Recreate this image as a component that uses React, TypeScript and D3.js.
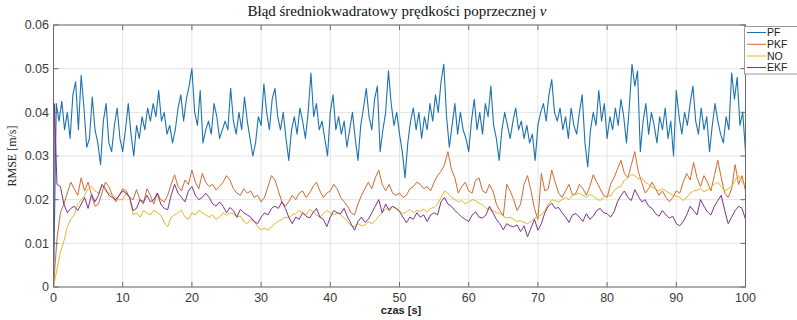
import React from "react";
import * as d3 from "d3";

// ---- data ----
const xTicks = [0, 10, 20, 30, 40, 50, 60, 70, 80, 90, 100];
const yTicks = [0, 0.01, 0.02, 0.03, 0.04, 0.05, 0.06];
const yTickLabels = ["0", "0.01", "0.02", "0.03", "0.04", "0.05", "0.06"];
const seriesNames = ["PF", "PKF", "NO", "EKF"];

// PF sampled every 0.4 s from t = 0
const pfStep = 0.4;
const pfValues = [
  0.000, 0.042, 0.038, 0.0425, 0.036, 0.040, 0.034, 0.044, 0.047, 0.036,
  0.0485, 0.041, 0.032, 0.034, 0.0435, 0.036, 0.033, 0.028, 0.038, 0.042,
  0.033, 0.031, 0.037, 0.041, 0.034, 0.031, 0.036, 0.042, 0.035, 0.030,
  0.037, 0.034, 0.039, 0.036, 0.041, 0.038, 0.042, 0.039, 0.045, 0.038,
  0.040, 0.035, 0.037, 0.033, 0.036, 0.041, 0.044, 0.038, 0.043, 0.046,
  0.050, 0.040, 0.037, 0.045, 0.033, 0.036, 0.038, 0.035, 0.042, 0.039,
  0.034, 0.036, 0.038, 0.036, 0.0455, 0.038, 0.035, 0.040, 0.036, 0.0435,
  0.038, 0.034, 0.030, 0.033, 0.039, 0.037, 0.0465, 0.040, 0.036, 0.043,
  0.0455, 0.039, 0.036, 0.040, 0.034, 0.029, 0.036, 0.039, 0.035, 0.041,
  0.038, 0.034, 0.040, 0.049, 0.039, 0.042, 0.036, 0.038, 0.034, 0.030,
  0.040, 0.044, 0.036, 0.039, 0.035, 0.038, 0.032, 0.036, 0.040, 0.034,
  0.029, 0.037, 0.041, 0.0455, 0.039, 0.036, 0.043, 0.046, 0.031, 0.036,
  0.040, 0.0495, 0.042, 0.037, 0.040, 0.035, 0.031, 0.025, 0.033, 0.038,
  0.041, 0.036, 0.040, 0.034, 0.039, 0.036, 0.042, 0.038, 0.044, 0.040,
  0.047, 0.051, 0.039, 0.032, 0.037, 0.042, 0.035, 0.040, 0.036, 0.034,
  0.031, 0.038, 0.043, 0.036, 0.040, 0.035, 0.042, 0.039, 0.046, 0.037,
  0.034, 0.029, 0.036, 0.040, 0.037, 0.034, 0.038, 0.041, 0.036, 0.038,
  0.034, 0.037, 0.033, 0.035, 0.029, 0.037, 0.040, 0.042, 0.038, 0.044,
  0.0475, 0.040, 0.038, 0.041, 0.036, 0.039, 0.034, 0.041, 0.037, 0.035,
  0.040, 0.044, 0.033, 0.0275, 0.036, 0.040, 0.037, 0.045, 0.038, 0.042,
  0.034, 0.039, 0.036, 0.041, 0.037, 0.043, 0.039, 0.033, 0.041, 0.051,
  0.046, 0.0495, 0.031, 0.038, 0.042, 0.035, 0.040, 0.037, 0.033, 0.039,
  0.036, 0.041, 0.034, 0.038, 0.030, 0.045, 0.039, 0.035, 0.040, 0.037,
  0.042, 0.046, 0.038, 0.035, 0.041, 0.036, 0.039, 0.031, 0.037, 0.042,
  0.038, 0.035, 0.033, 0.039, 0.036, 0.049, 0.043, 0.048, 0.037, 0.040,
  0.031,
];

// PKF sampled every 0.5 s from t = 0
const pkfStep = 0.5;
const pkfValues = [
  0.000, 0.011, 0.017, 0.019, 0.0215, 0.024, 0.0225, 0.021, 0.025, 0.022,
  0.024, 0.021, 0.0185, 0.019, 0.0215, 0.024, 0.023, 0.021, 0.0195, 0.021,
  0.0225, 0.022, 0.0205, 0.020, 0.0223, 0.020, 0.019, 0.0225, 0.021, 0.019,
  0.0215, 0.020, 0.0195, 0.021, 0.0235, 0.0257, 0.023, 0.022, 0.0245, 0.0235,
  0.0268, 0.024, 0.0225, 0.026, 0.024, 0.023, 0.0235, 0.0222, 0.023, 0.024,
  0.0255, 0.0245, 0.0225, 0.0215, 0.021, 0.0225, 0.0215, 0.022, 0.0205, 0.021,
  0.0195, 0.0205, 0.023, 0.0255, 0.0245, 0.022, 0.0195, 0.0185, 0.0195, 0.021,
  0.020, 0.0215, 0.022, 0.0205, 0.0215, 0.023, 0.024, 0.022, 0.0205, 0.0215,
  0.022, 0.0235, 0.0225, 0.0205, 0.0195, 0.0185, 0.017, 0.0165, 0.019, 0.021,
  0.0225, 0.024, 0.0225, 0.025, 0.0268, 0.0235, 0.022, 0.0235, 0.0215, 0.021,
  0.0215, 0.0205, 0.021, 0.0225, 0.023, 0.024, 0.0235, 0.0225, 0.023, 0.022,
  0.024, 0.0255, 0.0265, 0.028, 0.031, 0.027, 0.025, 0.0215, 0.023, 0.024,
  0.022, 0.0215, 0.0245, 0.025, 0.022, 0.0215, 0.0235, 0.022, 0.019, 0.0175,
  0.0163, 0.0235, 0.022, 0.020, 0.0175, 0.019, 0.0235, 0.0255, 0.022, 0.018,
  0.0155, 0.026, 0.022, 0.0225, 0.0268, 0.024, 0.0215, 0.0205, 0.022, 0.0235,
  0.021, 0.0215, 0.0235, 0.0225, 0.021, 0.023, 0.0257, 0.024, 0.0225, 0.021,
  0.0205, 0.0235, 0.025, 0.027, 0.029, 0.026, 0.025, 0.028, 0.031, 0.0265,
  0.024, 0.0215, 0.0225, 0.024, 0.0225, 0.021, 0.022, 0.0205, 0.0195, 0.0205,
  0.022, 0.0215, 0.024, 0.026, 0.0245, 0.0285, 0.025, 0.023, 0.0255, 0.024,
  0.022, 0.0255, 0.029, 0.025, 0.0215, 0.0205, 0.0225, 0.028, 0.0235, 0.0255,
  0.022,
];

// NO sampled every 0.5 s from t = 0
const noStep = 0.5;
const noValues = [
  0.000, 0.004, 0.008, 0.0105, 0.0138, 0.0155, 0.0165, 0.019, 0.020, 0.021,
  0.0225, 0.023, 0.022, 0.0215, 0.023, 0.022, 0.0215, 0.021, 0.0205, 0.020,
  0.020, 0.0215, 0.0205, 0.0165, 0.017, 0.016, 0.0175, 0.017, 0.0165, 0.0176,
  0.017, 0.0165, 0.0148, 0.0138, 0.016, 0.0165, 0.017, 0.0176, 0.016, 0.0155,
  0.017, 0.0165, 0.0176, 0.017, 0.0165, 0.016, 0.0165, 0.0155, 0.016, 0.017,
  0.0165, 0.017, 0.0168, 0.016, 0.0163, 0.015, 0.0145, 0.0155, 0.015, 0.0138,
  0.0131, 0.0135, 0.013, 0.0138, 0.0145, 0.015, 0.0155, 0.016, 0.0158, 0.0165,
  0.0168, 0.0175, 0.017, 0.0165, 0.0178, 0.0172, 0.0165, 0.016, 0.0168, 0.0175,
  0.017, 0.0165, 0.017, 0.0165, 0.0158, 0.015, 0.014, 0.0138, 0.0145, 0.014,
  0.0142, 0.015, 0.0145, 0.0152, 0.0162, 0.017, 0.0178, 0.018, 0.0184, 0.018,
  0.0176, 0.0168, 0.0172, 0.0178, 0.017, 0.0175, 0.0173, 0.0178, 0.0172, 0.018,
  0.0182, 0.019, 0.0205, 0.022, 0.0215, 0.0205, 0.020, 0.0195, 0.0198, 0.019,
  0.0195, 0.020, 0.0198, 0.0192, 0.0188, 0.018, 0.0178, 0.0175, 0.017, 0.0168,
  0.0162, 0.0158, 0.016, 0.0155, 0.015, 0.0152, 0.0148, 0.0145, 0.015, 0.0158,
  0.016, 0.0165, 0.0175, 0.019, 0.020, 0.0198, 0.0195, 0.020, 0.0205, 0.020,
  0.021, 0.0212, 0.0215, 0.021, 0.0205, 0.0212, 0.0208, 0.0202, 0.0198, 0.0205,
  0.021, 0.0208, 0.022, 0.0228, 0.023, 0.0245, 0.025, 0.0258, 0.0255, 0.0248,
  0.025, 0.024, 0.0235, 0.0228, 0.0225, 0.022, 0.0225, 0.022, 0.0215, 0.021,
  0.0208, 0.0205, 0.0198, 0.0205, 0.0215, 0.022, 0.0222, 0.0225, 0.0218, 0.0222,
  0.023, 0.0235, 0.024, 0.023, 0.022, 0.0225, 0.023, 0.0245, 0.0255, 0.024,
  0.0235,
];

// EKF: short onset spike, then sampled every 0.5 s from t = 0.5
const ekfOnsetTimes = [0, 0.12];
const ekfOnsetValues = [0.0, 0.042];
const ekfStart = 0.5;
const ekfStep = 0.5;
const ekfValues = [
  0.0235, 0.023, 0.019, 0.017, 0.018, 0.0185, 0.0175, 0.019, 0.0205, 0.018,
  0.0212, 0.0195, 0.021, 0.0235, 0.0225, 0.021, 0.0205, 0.020, 0.021, 0.022,
  0.0215, 0.0205, 0.0175, 0.018, 0.020, 0.0195, 0.021, 0.0195, 0.020, 0.0215,
  0.019, 0.018, 0.0177, 0.021, 0.0235, 0.0215, 0.0205, 0.0195, 0.022, 0.023,
  0.021, 0.020, 0.0205, 0.0215, 0.0205, 0.019, 0.0185, 0.0195, 0.0185, 0.017,
  0.0182, 0.0175, 0.016, 0.0178, 0.017, 0.0165, 0.016, 0.015, 0.0145, 0.016,
  0.017, 0.0165, 0.018, 0.0185, 0.018, 0.0195, 0.018, 0.016, 0.0145, 0.016,
  0.0155, 0.017, 0.0162, 0.0158, 0.017, 0.018, 0.016, 0.0155, 0.0138, 0.016,
  0.0175, 0.017, 0.0168, 0.018, 0.016, 0.0145, 0.013, 0.015, 0.016, 0.0148,
  0.0155, 0.017, 0.0185, 0.020, 0.017, 0.019, 0.0175, 0.0185, 0.018, 0.0173,
  0.016, 0.0147, 0.016, 0.0155, 0.017, 0.016, 0.0165, 0.015, 0.0165, 0.017,
  0.0165, 0.0195, 0.0205, 0.019, 0.0185, 0.0175, 0.0168, 0.016, 0.0155, 0.015,
  0.0165, 0.0172, 0.016, 0.0158, 0.0165, 0.0185, 0.017, 0.0155, 0.0145, 0.0131,
  0.0145, 0.014, 0.0138, 0.0142, 0.0127, 0.014, 0.0115, 0.0135, 0.0155, 0.013,
  0.0145, 0.017, 0.0185, 0.0192, 0.018, 0.0182, 0.017, 0.016, 0.0148, 0.0165,
  0.0168, 0.016, 0.015, 0.0168, 0.0155, 0.0162, 0.0175, 0.018, 0.017, 0.0168,
  0.016, 0.0172, 0.0195, 0.021, 0.022, 0.0205, 0.0198, 0.0223, 0.0208, 0.0195,
  0.020, 0.0185, 0.018, 0.0168, 0.0162, 0.0175, 0.0165, 0.0158, 0.0162, 0.0145,
  0.014, 0.015, 0.0165, 0.0185, 0.0175, 0.0165, 0.020, 0.0185, 0.0172, 0.0165,
  0.0185, 0.0198, 0.021, 0.0175, 0.0145, 0.016, 0.0175, 0.0185, 0.018, 0.0155,
];

const colors = ["#1b72b0", "#cf6a32", "#e3b62c", "#7b3289"];

type Pt = [number, number];

function sampled(values: number[], start: number, step: number): Pt[] {
  return values.map((v, i) => [start + i * step, v] as Pt);
}

export default function App() {
  const W = 797;
  const H = 320;
  const left = 53.5;
  const right = 745.5;
  const top = 25;
  const bottom = 287;

  const x = d3.scaleLinear().domain([0, 100]).range([left, right]);
  const y = d3.scaleLinear().domain([0, 0.06]).range([bottom, top]);

  const line = d3
    .line<Pt>()
    .x((d) => x(d[0]))
    .y((d) => y(d[1]));

  const ekfPts: Pt[] = [
    ...ekfOnsetTimes.map((t, i) => [t, ekfOnsetValues[i]] as Pt),
    ...sampled(ekfValues, ekfStart, ekfStep),
  ];

  const series: Pt[][] = [
    sampled(pfValues, 0, pfStep),
    sampled(pkfValues, 0, pkfStep),
    sampled(noValues, 0, noStep),
    ekfPts,
  ];

  const gridColor = "#e3e3e3";
  const axisColor = "#6a6a6a";
  const tickText = "#3a3a3a";
  const sans = "'Liberation Sans', Arial, Helvetica, sans-serif";
  const serif = "'Liberation Serif', 'Times New Roman', serif";

  const legendY = [32.5, 44.3, 56, 67.5];

  return (
    <div style={{ position: "absolute", left: 0, top: 0, width: W, height: H, background: "#fff" }}>
      <svg width={W} height={H} viewBox={`0 0 ${W} ${H}`} style={{ display: "block" }}>
        <rect x={0} y={0} width={W} height={H} fill="#fff" />
        {/* grid */}
        {xTicks.map((t) => (
          <line key={"gx" + t} x1={x(t)} x2={x(t)} y1={top} y2={bottom} stroke={gridColor} strokeWidth={1} />
        ))}
        {yTicks.map((t) => (
          <line key={"gy" + t} x1={left} x2={right} y1={y(t)} y2={y(t)} stroke={gridColor} strokeWidth={1} />
        ))}
        {/* series */}
        <defs>
          <clipPath id="plotclip">
            <rect x={left - 1} y={top} width={right - left + 2} height={bottom - top} />
          </clipPath>
        </defs>
        <g clipPath="url(#plotclip)">
          {series.map((pts, i) => (
            <path
              key={seriesNames[i]}
              d={line(pts) || ""}
              fill="none"
              stroke={colors[i]}
              strokeWidth={i === 0 ? 1.1 : 1}
              strokeLinejoin="round"
            />
          ))}
        </g>
        {/* axes box */}
        <rect x={left} y={top} width={right - left} height={bottom - top} fill="none" stroke={axisColor} strokeWidth={1} />
        {/* ticks */}
        {xTicks.map((t) => (
          <g key={"tx" + t}>
            <line x1={x(t)} x2={x(t)} y1={bottom} y2={bottom - 5} stroke={axisColor} />
            <line x1={x(t)} x2={x(t)} y1={top} y2={top + 5} stroke={axisColor} />
            <text x={x(t)} y={302} fontFamily={sans} fontSize={12.5} fill={tickText} textAnchor="middle">
              {t}
            </text>
          </g>
        ))}
        {yTicks.map((t, i) => (
          <g key={"ty" + t}>
            <line x1={left} x2={left + 5} y1={y(t)} y2={y(t)} stroke={axisColor} />
            <line x1={right} x2={right - 5} y1={y(t)} y2={y(t)} stroke={axisColor} />
            <text x={49} y={y(t)} dy="0.35em" fontFamily={sans} fontSize={12.5} fill={tickText} textAnchor="end">
              {yTickLabels[i]}
            </text>
          </g>
        ))}
        {/* title */}
        <text x={397} y={16} fontFamily={serif} fontSize={15} fill="#111" textAnchor="middle">
          Błąd średniokwadratowy prędkości poprzecznej <tspan fontStyle="italic">v</tspan>
        </text>
        {/* axis labels */}
        <text x={401} y={314} fontFamily={sans} fontSize={11} fontWeight="bold" fill="#222" textAnchor="middle">
          czas [s]
        </text>
        <text
          transform={`translate(16, ${(top + bottom) / 2}) rotate(-90)`}
          fontFamily={serif}
          fontSize={12}
          fill="#222"
          textAnchor="middle"
        >
          RMSE [m/s]
        </text>
        {/* legend */}
        <rect x={744.5} y={26.5} width={60} height={47.5} fill="#fff" stroke="#9a9a9a" strokeWidth={1} />
        {seriesNames.map((n, i) => (
          <g key={"lg" + n}>
            <line x1={747} x2={766} y1={legendY[i]} y2={legendY[i]} stroke={colors[i]} strokeWidth={1} />
            <text x={767} y={legendY[i]} dy="0.35em" fontFamily={sans} fontSize={10.5} fill="#222">
              {n}
            </text>
          </g>
        ))}
      </svg>
    </div>
  );
}
